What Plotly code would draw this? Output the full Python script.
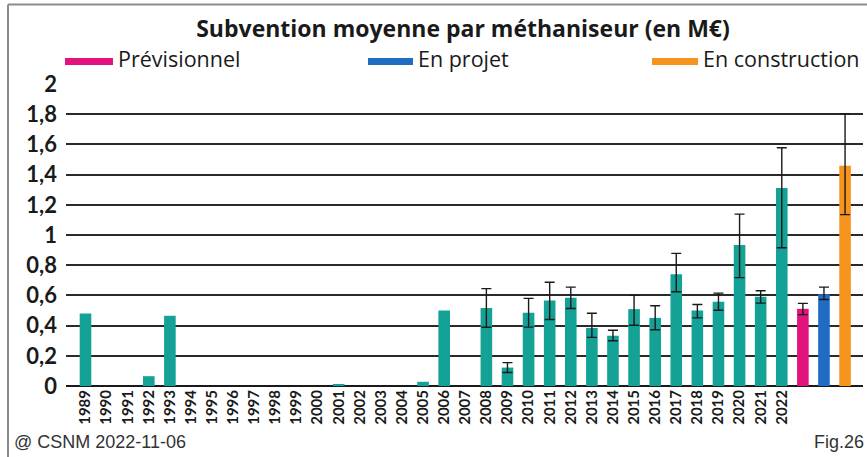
import plotly.graph_objects as go

years = [str(y) for y in range(1989, 2023)]
values = [0.48, 0, 0, 0.065, 0.465, 0, 0, 0, 0, 0, 0, 0, 0.012, 0, 0, 0, 0.028, 0.50,
          0, 0.517, 0.122, 0.485, 0.567, 0.584, 0.384, 0.333, 0.509, 0.451, 0.74,
          0.50, 0.558, 0.933, 0.591, 1.311]
err_hi = [None] * 19 + [0.645, 0.155, 0.58, 0.687, 0.655, 0.482, 0.369, 0.60, 0.531,
                        0.878, 0.54, 0.615, 1.138, 0.631, 1.578]
err_lo = [None] * 19 + [0.389, 0.089, 0.39, 0.44, 0.513, 0.322, 0.30, 0.402, 0.373,
                        0.624, 0.451, 0.502, 0.718, 0.549, 0.916]

extra_names = ["Prévisionnel", "En projet", "En construction"]
extra_values = [0.511, 0.607, 1.458]
extra_hi = [0.547, 0.655, 1.802]
extra_lo = [0.473, 0.573, 1.135]
extra_colors = ["#E2137E", "#1F6DC2", "#F7941D"]

y_ticks = [0, 0.2, 0.4, 0.6, 0.8, 1, 1.2, 1.4, 1.6, 1.8, 2]
y_ticktext = ["0", "0,2", "0,4", "0,6", "0,8", "1", "1,2", "1,4", "1,6", "1,8", "2"]

teal = "#14A196"
W, H = 867, 457
ML, MR, MT, MB = 66, 4, 84, 71

fig = go.Figure()

xs = list(range(len(years)))
plus = [(h - v) if h is not None else 0 for h, v in zip(err_hi, values)]
minus = [(v - l) if l is not None else 0 for l, v in zip(err_lo, values)]

fig.add_trace(go.Bar(
    x=xs, y=values, width=0.55, marker=dict(color=teal, line=dict(width=0)),
    showlegend=False,
))
ex = [i for i, h in enumerate(err_hi) if h is not None]
fig.add_trace(go.Scatter(
    x=ex, y=[values[i] for i in ex], mode="markers",
    marker=dict(size=0.1, color="rgba(0,0,0,0)"),
    error_y=dict(type="data", symmetric=False,
                 array=[plus[i] for i in ex], arrayminus=[minus[i] for i in ex],
                 color="#1a1a1a", thickness=1.4, width=5),
    showlegend=False, hoverinfo="skip",
))

for k, (name, v, hi, lo, c) in enumerate(zip(extra_names, extra_values, extra_hi, extra_lo, extra_colors)):
    xpos = len(years) + k
    fig.add_trace(go.Bar(
        x=[xpos], y=[v], width=0.55, name=name,
        marker=dict(color=c, line=dict(width=0)),
        error_y=dict(type="data", symmetric=False, array=[hi - v], arrayminus=[v - lo],
                     color="#1a1a1a", thickness=1.4, width=5),
        showlegend=False,
    ))

pw = W - ML - MR
ph = H - MT - MB
def px(x):
    return (x - ML) / pw
def py(y):
    return (H - MB - y) / ph

shapes = []
annotations = []
legend_pos = [(65, 113), (368, 413), (652, 698)]
for (x0, x1), name, c in zip(legend_pos, extra_names, extra_colors):
    shapes.append(dict(type="rect", xref="paper", yref="paper",
                       x0=px(x0), x1=px(x1), y0=py(65), y1=py(58),
                       fillcolor=c, line=dict(width=0)))
    annotations.append(dict(text=name, xref="paper", yref="paper",
                            x=px(x1 + 3), y=py(58), xanchor="left", yanchor="middle",
                            showarrow=False,
                            font=dict(family="Open Sans", size=21.5, color="#1a1a1a")))

# outer frame (top and left edges)
shapes.append(dict(type="line", xref="paper", yref="paper",
                   x0=px(8), x1=px(870), y0=py(4.5), y1=py(4.5),
                   line=dict(color="#8c8c8c", width=2)))
shapes.append(dict(type="line", xref="paper", yref="paper",
                   x0=px(8), x1=px(8), y0=py(4.5), y1=py(460),
                   line=dict(color="#8c8c8c", width=2)))

annotations.append(dict(text="@ CSNM 2022-11-06", xref="paper", yref="paper",
                        x=px(12), y=py(442), xanchor="left", yanchor="middle",
                        showarrow=False,
                        font=dict(family="Liberation Sans", size=18, color="#333333")))
annotations.append(dict(text="Fig.26", xref="paper", yref="paper",
                        x=px(866), y=py(442), xanchor="right", yanchor="middle",
                        showarrow=False,
                        font=dict(family="Liberation Sans", size=18, color="#333333")))

fig.update_layout(
    width=W, height=H,
    margin=dict(l=ML, r=MR, t=MT, b=MB),
    paper_bgcolor="white", plot_bgcolor="white",
    title=dict(text="<b>Subvention moyenne par méthaniseur (en M€)</b>",
               xref="container", x=463 / W, xanchor="center",
               yref="container", y=1 - 29 / H, yanchor="middle",
               font=dict(family="Open Sans", size=23, color="#1a1a1a")),
    shapes=shapes, annotations=annotations,
    barmode="overlay",
    xaxis=dict(range=[-0.924, 36.85], tickmode="array", tickvals=xs, ticktext=years,
               tickangle=-90, showgrid=False, zeroline=False, ticks="",
               showline=False,
               tickfont=dict(family="Lato", size=15, color="#1a1a1a", weight="bold")),
    yaxis=dict(range=[0, 2], tickmode="array", tickvals=y_ticks, ticktext=y_ticktext,
               showgrid=True, gridcolor="#2a2a2a", gridwidth=1.5,
               zeroline=True, zerolinecolor="#1a1a1a", zerolinewidth=2,
               ticks="", ticklabelstandoff=8,
               tickfont=dict(family="Lato", size=22, color="#1a1a1a", weight="bold")),
)

fig.write_html("out.html", config={"displayModeBar": False},
               post_script="document.body.style.margin='0';document.body.style.overflow='hidden';")
